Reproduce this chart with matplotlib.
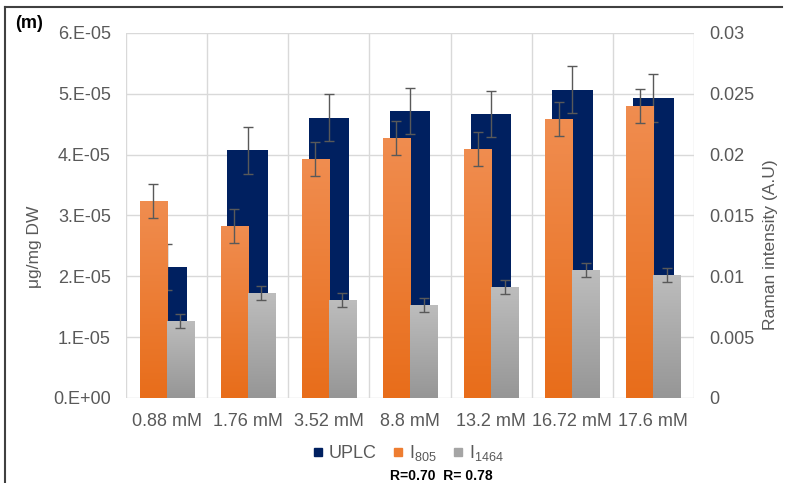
import matplotlib
matplotlib.use("Agg")
import matplotlib.pyplot as plt
import numpy as np
from matplotlib.colors import LinearSegmentedColormap
from matplotlib.lines import Line2D

plt.rcParams['font.family'] = ['Liberation Sans', 'DejaVu Sans']
plt.rcParams['mathtext.fontset'] = 'custom'
plt.rcParams['mathtext.rm'] = 'Liberation Sans'

# data
categories = ['0.88 mM', '1.76 mM', '3.52 mM', '8.8 mM', '13.2 mM', '16.72 mM', '17.6 mM']
uplc = [2.15e-05, 4.07e-05, 4.61e-05, 4.72e-05, 4.67e-05, 5.07e-05, 4.93e-05]
uplc_err = [0.38e-05, 0.38e-05, 0.38e-05, 0.38e-05, 0.38e-05, 0.38e-05, 0.39e-05]
i805 = [0.01619, 0.01414, 0.01964, 0.02137, 0.02047, 0.02293, 0.02400]
i805_err = [0.00136, 0.00138, 0.00136, 0.00136, 0.00140, 0.00140, 0.00136]
i1464 = [0.00633, 0.00863, 0.00805, 0.00764, 0.00912, 0.01052, 0.01011]
i1464_err = [0.00058, 0.00055, 0.00058, 0.00055, 0.00058, 0.00058, 0.00055]

left_ticks = [0, 1e-05, 2e-05, 3e-05, 4e-05, 5e-05, 6e-05]
left_labels = ['0.E+00', '1.E-05', '2.E-05', '3.E-05', '4.E-05', '5.E-05', '6.E-05']
right_ticks = [0, 0.005, 0.01, 0.015, 0.02, 0.025, 0.03]
right_labels = ['0', '0.005', '0.01', '0.015', '0.02', '0.025', '0.03']

navy = '#002060'
tick_col = '#595959'
orange_cm = LinearSegmentedColormap.from_list('o', ['#E86D1A', '#F08D50'])
gray_cm = LinearSegmentedColormap.from_list('g', ['#969696', '#BDBDBD'])

fig = plt.figure(figsize=(7.91, 4.83), dpi=100)
ax = fig.add_axes([126 / 791, 1 - 398 / 483, (694 - 126) / 791, (398 - 33) / 483])
ax2 = ax.twinx()

x = np.arange(len(categories))

# primary axis: UPLC
ax.bar(x, uplc, width=0.5, color=navy, zorder=2)
ax.errorbar(x, uplc, yerr=uplc_err, fmt='none', ecolor=tick_col, elinewidth=1,
            capsize=3.5, capthick=1, zorder=3)

# secondary axis: Raman bands with vertical gradient
grad = np.linspace(0, 1, 256).reshape(-1, 1)
for vals, errs, off, cm in [(i805, i805_err, -1 / 6, orange_cm), (i1464, i1464_err, 1 / 6, gray_cm)]:
    bars = ax2.bar(x + off, vals, width=1 / 3, color=cm(0.5), zorder=2)
    for p in bars:
        im = ax2.imshow(grad, extent=[p.get_x(), p.get_x() + p.get_width(), 0, p.get_height()],
                        origin='lower', aspect='auto', cmap=cm, zorder=2.1)
        im.set_clip_path(p)
    ax2.errorbar(x + off, vals, yerr=errs, fmt='none', ecolor=tick_col, elinewidth=1,
                 capsize=3.5, capthick=1, zorder=3)

ax.set_xlim(-0.5, len(categories) - 0.5)
ax2.set_xlim(-0.5, len(categories) - 0.5)
ax.set_ylim(0, 6e-05)
ax2.set_ylim(0, 0.03)

ax.set_xticks(x)
ax.set_xticklabels(categories)
ax.set_xticks(np.arange(-0.5, len(categories), 1), minor=True)
ax.set_yticks(left_ticks)
ax.set_yticklabels(left_labels)
ax2.set_yticks(right_ticks)
ax2.set_yticklabels(right_labels)

ax.grid(True, axis='y', color='#D9D9D9', lw=1, zorder=0)
ax.grid(True, axis='x', which='minor', color='#D9D9D9', lw=1, zorder=0)
ax.set_axisbelow(True)
for a in (ax, ax2):
    for s in a.spines.values():
        s.set_visible(False)
    a.tick_params(which='both', length=0, pad=11, labelcolor=tick_col, labelsize=13)

fig.text(34 / 791, 1 - 247 / 483, 'μg/mg DW', rotation=90, ha='center', va='center',
         fontsize=12.5, color=tick_col)
fig.text(771 / 791, 1 - 245 / 483, 'Raman intensity (A.U)', rotation=90, ha='center',
         va='center', fontsize=12.5, color=tick_col)
fig.text(29 / 791, 1 - 23 / 483, '(m)', ha='center', va='center', fontsize=13,
         fontweight='bold', color='black')

handles = [Line2D([], [], marker='s', ls='none', color=navy, markersize=6),
           Line2D([], [], marker='s', ls='none', color='#EE7D31', markersize=6),
           Line2D([], [], marker='s', ls='none', color='#A5A5A5', markersize=6)]
leg = fig.legend(handles, ['UPLC', r'I$_{\mathregular{805}}$', r'I$_{\mathregular{1464}}$'],
                 loc='center', bbox_to_anchor=(408 / 791, 1 - 453 / 483), ncol=3,
                 frameon=False, fontsize=13, handlelength=0.6, handletextpad=0.3,
                 columnspacing=0.9, labelcolor=tick_col)
fig.text(441 / 791, 1 - 476 / 483, 'R=0.70  R= 0.78', ha='center', va='center',
         fontsize=10, fontweight='bold', color='black')

# frame lines of the original figure
fig.add_artist(Line2D([5 / 791, 5 / 791], [0, 1 - 7 / 483], color='#404040', lw=1.5))
fig.add_artist(Line2D([5 / 791, 782 / 791], [1 - 7 / 483, 1 - 7 / 483], color='#404040', lw=1.5))

fig.savefig('out.png', dpi=100)
